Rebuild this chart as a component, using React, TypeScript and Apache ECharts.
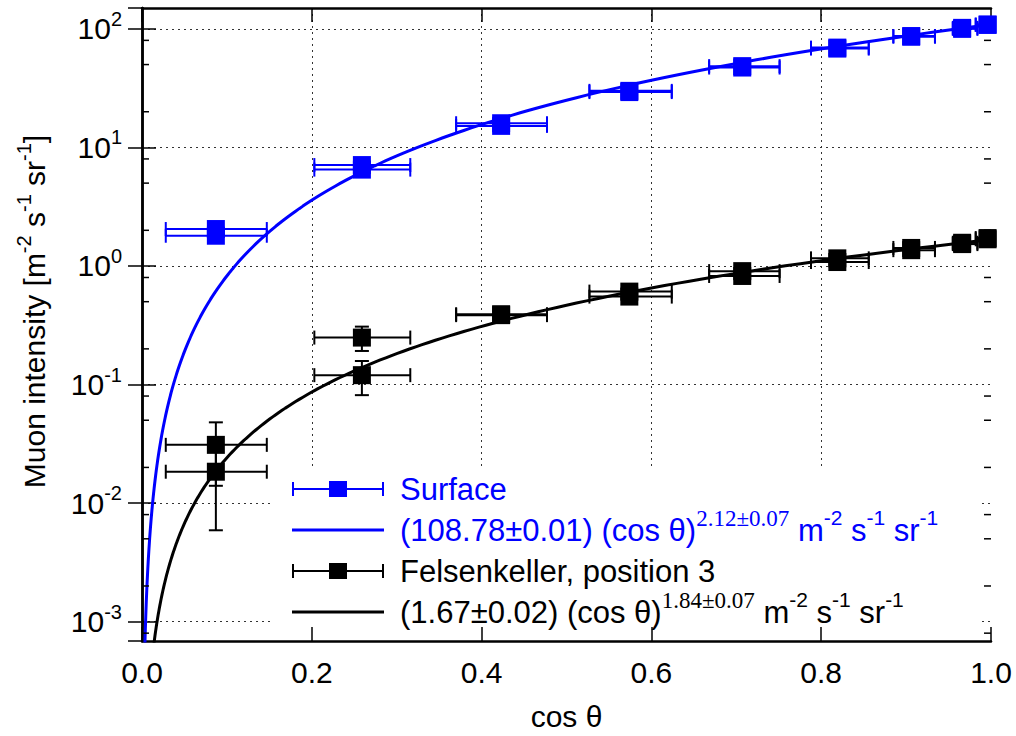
import React, { useEffect, useRef } from "react";
import * as echarts from "echarts";

// ---- data ----
const cosTheta = [0.087, 0.259, 0.423, 0.574, 0.707, 0.819, 0.906, 0.966, 0.996];
const cosThetaLow = [0.028, 0.203, 0.37, 0.527, 0.668, 0.788, 0.885, 0.955, 0.982];
const cosThetaHigh = [0.147, 0.316, 0.477, 0.624, 0.751, 0.856, 0.934, 0.984, 1.0];

const surfaceRun1 = [2.05, 7.1, 16.0, 30.0, 48.5, 69.5, 87.0, 102, 109];
const surfaceRun2 = [1.8, 6.5, 15.2, 29.3, 47.2, 68.2, 85.8, 100, 108];

const felsRun1 = [0.031, 0.249, 0.392, 0.608, 0.905, 1.16, 1.42, 1.57, 1.72];
const felsRun1Low = [0.014, 0.192, null, null, null, null, null, null, null];
const felsRun1High = [0.048, 0.308, null, null, null, null, null, null, null];
const felsRun2 = [0.0184, 0.12, 0.385, 0.552, 0.824, 1.08, 1.36, 1.53, 1.68];
const felsRun2Low = [0.0059, 0.0814, null, null, null, null, null, null, null];
const felsRun2High = [0.031, 0.158, null, null, null, null, null, null, null];

// fit parameters, as stated in the legend
const surfaceFitA = 108.78;
const surfaceFitB = 2.12;
const felsFitA = 1.67;
const felsFitB = 1.84;

const xTickLabels = ["0.0", "0.2", "0.4", "0.6", "0.8", "1.0"];
const minorTickValues = [0.0008, 0.002, 0.005, 0.008, 0.02, 0.05, 0.08, 0.2, 0.5, 0.8, 2, 5, 8, 20, 50, 80];

const legendNames = ["Surface", "fitS", "Fels", "fitF"];
const legendLabels: Record<string, string> = {
  Surface: "{bB|Surface}",
  fitS: "{bB|(108.78±0.01) (cos θ)}{bT|2.12±0.07}{bB| m}{bS|-2}{bB| s}{bS|-1}{bB| sr}{bS|-1}",
  Fels: "{kB|Felsenkeller, position 3}",
  fitF: "{kB|(1.67±0.02) (cos θ)}{kT|1.84±0.07}{kB| m}{kS|-2}{kB| s}{kS|-1}{kB| sr}{kS|-1}",
};

const BLUE = "#0000ff";
const BLACK = "#000000";
const SANS = "Liberation Sans, Arial, sans-serif";
const SERIF = "Liberation Serif, Times New Roman, serif";

function errData(vals: number[], lows: (number | null)[] | null, highs: (number | null)[] | null) {
  return vals.map((v, i) => [
    cosTheta[i],
    v,
    cosThetaLow[i],
    cosThetaHigh[i],
    lows && lows[i] != null ? lows[i] : v,
    highs && highs[i] != null ? highs[i] : v,
  ]);
}

function fitCurve(a: number, b: number) {
  const pts: number[][] = [];
  const n = 300;
  for (let i = 0; i < n; i++) {
    const x = Math.pow(10, -3 + (3 * i) / (n - 1));
    pts.push([x, a * Math.pow(x, b)]);
  }
  return pts;
}

function errorBarSeries(name: string, color: string, data: any[]) {
  return {
    type: "custom",
    name,
    xAxisIndex: 0,
    yAxisIndex: 0,
    itemStyle: { color },
    encode: { x: [0, 2, 3], y: [1, 4, 5] },
    data,
    z: 2,
    renderItem: (params: any, api: any) => {
      const x = api.value(0);
      const y = api.value(1);
      const xl = api.value(2);
      const xh = api.value(3);
      const yl = api.value(4);
      const yh = api.value(5);
      const st = { stroke: color, lineWidth: 2, fill: null };
      const cap = 7;
      const pL = api.coord([xl, y]);
      const pR = api.coord([xh, y]);
      const children: any[] = [
        { type: "line", shape: { x1: pL[0], y1: pL[1], x2: pR[0], y2: pR[1] }, style: st },
        { type: "line", shape: { x1: pL[0], y1: pL[1] - cap, x2: pL[0], y2: pL[1] + cap }, style: st },
        { type: "line", shape: { x1: pR[0], y1: pR[1] - cap, x2: pR[0], y2: pR[1] + cap }, style: st },
      ];
      if (yh > yl) {
        const pB = api.coord([x, yl]);
        const pT = api.coord([x, yh]);
        children.push(
          { type: "line", shape: { x1: pB[0], y1: pB[1], x2: pT[0], y2: pT[1] }, style: st },
          { type: "line", shape: { x1: pB[0] - cap, y1: pB[1], x2: pB[0] + cap, y2: pB[1] }, style: st },
          { type: "line", shape: { x1: pT[0] - cap, y1: pT[1], x2: pT[0] + cap, y2: pT[1] }, style: st }
        );
      }
      return { type: "group", children };
    },
  };
}

function squareSeries(name: string, color: string, data: any[]) {
  return {
    type: "scatter",
    name,
    xAxisIndex: 0,
    yAxisIndex: 0,
    symbol: "rect",
    symbolSize: 18,
    itemStyle: { color, opacity: 1 },
    data: data.map((d) => [d[0], d[1]]),
    z: 3,
  };
}

const errIcon = "path://M0,1h2v14h-2z M2,7h88v2h-88z M90,1h2v14h-2z M37,0h18v16h-18z";
const lineIcon = "path://M0,0h0.01v0.01h-0.01z M0,6.5h92v3h-92z M91.99,15.99h0.01v0.01h-0.01z";

const gridLine = { show: true, showMinLine: false, showMaxLine: false, lineStyle: { color: "#333", width: 1, type: [2, 4] } };
const frameLine = { show: true, lineStyle: { color: "#000", width: 2.5 } };
const majorTick = { show: true, inside: true, length: 14, lineStyle: { color: "#000", width: 1.5 } };

const supStyle = (color: string, size: number) => ({ fontSize: size, lineHeight: 20, verticalAlign: "top", fontFamily: SANS, color });

export default function App() {
  const ref = useRef<HTMLDivElement>(null);
  useEffect(() => {
    const chart = echarts.init(ref.current!, null, { renderer: "svg" });
    const yMin = 0.000687;
    const yMax = 150;
    const option: any = {
      animation: false,
      backgroundColor: "#fff",
      textStyle: { fontFamily: SANS },
      grid: { left: 142, right: 25, top: 8, bottom: 94, containLabel: false },
      xAxis: [
        {
          type: "value",
          min: 0,
          max: 1,
          interval: 0.2,
          position: "bottom",
          z: 3,
          axisLine: frameLine,
          axisTick: majorTick,
          splitLine: { show: false },
          axisLabel: {
            fontSize: 30,
            color: "#000",
            margin: 16,
            fontFamily: SANS,
            formatter: (v: number) => xTickLabels[Math.round(v / 0.2)],
          },
          name: "cos θ",
          nameLocation: "middle",
          nameGap: 60,
          nameTextStyle: { fontSize: 30, color: "#000", fontFamily: SANS },
        },
        {
          type: "value",
          min: 0,
          max: 1,
          interval: 0.2,
          position: "top",
          z: 0,
          axisLine: frameLine,
          axisTick: majorTick,
          axisLabel: { show: false },
          splitLine: gridLine,
        },
      ],
      yAxis: [
        {
          type: "log",
          logBase: 10,
          min: yMin,
          max: yMax,
          position: "left",
          z: 3,
          axisLine: frameLine,
          axisTick: majorTick,
          splitLine: { show: false },
          axisLabel: {
            showMinLabel: false,
            showMaxLabel: false,
            margin: 20,
            formatter: (v: number) => `{b|10}{s|${Math.round(Math.log10(v))}}`,
            rich: {
              b: { fontSize: 30, lineHeight: 40, fontFamily: SANS, color: "#000" },
              s: supStyle("#000", 20),
            },
          },
          name: "{b|Muon intensity [m}{s|-2}{b| s}{s|-1}{b| sr}{s|-1}{b|]}",
          nameLocation: "middle",
          nameRotate: 90,
          nameGap: 88,
          nameTextStyle: {
            padding: [0, 0, 0, 26],
            rich: {
              b: { fontSize: 30, lineHeight: 40, fontFamily: SANS, color: "#000" },
              s: supStyle("#000", 20),
            },
          },
        },
        {
          type: "log",
          logBase: 10,
          min: yMin,
          max: yMax,
          position: "right",
          z: 0,
          axisLine: frameLine,
          axisTick: majorTick,
          axisLabel: { show: false },
          splitLine: gridLine,
        },
      ],
      graphic: [
        {
          type: "rect",
          z: 1,
          zlevel: 0,
          shape: { x: 272, y: 469, width: 706, height: 171 },
          style: { fill: "#fff" },
          silent: true,
        },
      ],
      legend: {
        orient: "vertical",
        left: 292,
        top: 466,
        padding: 0,
        itemGap: -5,
        itemWidth: 92,
        itemHeight: 16,
        selectedMode: false,
        data: [
          { name: legendNames[0], icon: errIcon, itemStyle: { color: BLUE } },
          { name: legendNames[1], icon: lineIcon, itemStyle: { color: BLUE } },
          { name: legendNames[2], icon: errIcon, itemStyle: { color: BLACK } },
          { name: legendNames[3], icon: lineIcon, itemStyle: { color: BLACK } },
        ],
        formatter: (name: string) => legendLabels[name],
        textStyle: {
          padding: [0, 0, 0, 11],
          lineHeight: 46,
          rich: {
            bB: { fontSize: 31, lineHeight: 46, fontFamily: SANS, color: BLUE },
            bT: { fontSize: 23, lineHeight: 20, verticalAlign: "top", fontFamily: SERIF, color: BLUE },
            bS: supStyle(BLUE, 21),
            kB: { fontSize: 31, lineHeight: 46, fontFamily: SANS, color: BLACK },
            kT: { fontSize: 23, lineHeight: 20, verticalAlign: "top", fontFamily: SERIF, color: BLACK },
            kS: supStyle(BLACK, 21),
          },
        },
      },
      series: [
        {
          type: "custom",
          name: "minorTicks",
          xAxisIndex: 0,
          yAxisIndex: 0,
          silent: true,
          z: 5,
          data: minorTickValues.map((v) => [0, v]),
          renderItem: (params: any, api: any) => {
            const v = api.value(1);
            const l = api.coord([0, v]);
            const r = api.coord([1, v]);
            const st = { stroke: "#000", lineWidth: 1.5 };
            return {
              type: "group",
              children: [
                { type: "line", shape: { x1: l[0], y1: l[1], x2: l[0] + 7, y2: l[1] }, style: st },
                { type: "line", shape: { x1: r[0], y1: r[1], x2: r[0] - 7, y2: r[1] }, style: st },
              ],
            };
          },
        },
        errorBarSeries("Surface", BLUE, errData(surfaceRun1, null, null)),
        errorBarSeries("Surface", BLUE, errData(surfaceRun2, null, null)),
        squareSeries("Surface", BLUE, errData(surfaceRun1, null, null)),
        squareSeries("Surface", BLUE, errData(surfaceRun2, null, null)),
        {
          type: "line",
          name: "fitS",
          xAxisIndex: 0,
          yAxisIndex: 0,
          symbol: "none",
          showSymbol: false,
          smooth: false,
          clip: true,
          lineStyle: { color: BLUE, width: 3 },
          itemStyle: { color: BLUE },
          data: fitCurve(surfaceFitA, surfaceFitB),
          z: 4,
        },
        errorBarSeries("Fels", BLACK, errData(felsRun1, felsRun1Low, felsRun1High)),
        errorBarSeries("Fels", BLACK, errData(felsRun2, felsRun2Low, felsRun2High)),
        squareSeries("Fels", BLACK, errData(felsRun1, null, null)),
        squareSeries("Fels", BLACK, errData(felsRun2, null, null)),
        {
          type: "line",
          name: "fitF",
          xAxisIndex: 0,
          yAxisIndex: 0,
          symbol: "none",
          showSymbol: false,
          smooth: false,
          clip: true,
          lineStyle: { color: BLACK, width: 3 },
          itemStyle: { color: BLACK },
          data: fitCurve(felsFitA, felsFitB),
          z: 4,
        },
      ],
    };
    chart.setOption(option);
    return () => chart.dispose();
  }, []);
  return <div ref={ref} style={{ position: "fixed", left: 0, top: 0, width: 1016, height: 736, background: "#fff" }} />;
}
